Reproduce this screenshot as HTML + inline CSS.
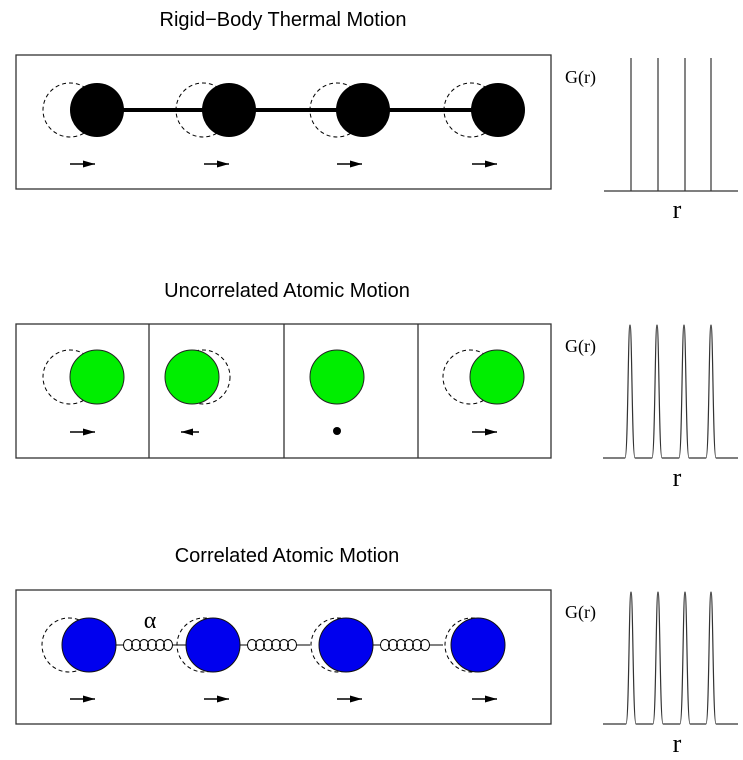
<!DOCTYPE html>
<html><head><style>body{margin:0;background:#fff}svg{display:block}</style></head><body>
<svg width="743" height="760" xmlns="http://www.w3.org/2000/svg">
<defs>
<marker id="ah" markerWidth="12" markerHeight="7" refX="12" refY="3.5" orient="auto" markerUnits="userSpaceOnUse"><path d="M0,0 L12,3.5 L0,7 z" fill="#000"/></marker>
<g id="spr" fill="none" stroke="#000" stroke-width="1">
<path d="M0,0 h8 M56,0 h14"/>
<ellipse cx="12" cy="0" rx="4.5" ry="5.5"/><ellipse cx="20" cy="0" rx="4.5" ry="5.5"/><ellipse cx="28" cy="0" rx="4.5" ry="5.5"/><ellipse cx="36" cy="0" rx="4.5" ry="5.5"/><ellipse cx="44" cy="0" rx="4.5" ry="5.5"/><ellipse cx="52" cy="0" rx="4.5" ry="5.5"/>
</g>
</defs>
<g font-family="Liberation Sans, sans-serif" font-size="20" text-anchor="middle" fill="#000">
<text x="283" y="26">Rigid−Body Thermal Motion</text>
<text x="287" y="297">Uncorrelated Atomic Motion</text>
<text x="287" y="562">Correlated Atomic Motion</text>
</g>
<g fill="none" stroke="#333" stroke-width="1.3">
<rect x="16" y="55" width="535" height="134"/>
<rect x="16" y="324" width="535" height="134"/>
<line x1="149" y1="324" x2="149" y2="458"/><line x1="284" y1="324" x2="284" y2="458"/><line x1="418" y1="324" x2="418" y2="458"/>
<rect x="16" y="590" width="535" height="134"/>
</g>
<line x1="97" y1="110" x2="498" y2="110" stroke="#000" stroke-width="4"/>
<g fill="none" stroke="#000" stroke-dasharray="4,3" stroke-width="1">
<circle cx="70" cy="110" r="27"/><circle cx="203" cy="110" r="27"/><circle cx="337" cy="110" r="27"/><circle cx="471" cy="110" r="27"/>
</g>
<g fill="#000"><circle cx="97" cy="110" r="27"/><circle cx="229" cy="110" r="27"/><circle cx="363" cy="110" r="27"/><circle cx="498" cy="110" r="27"/></g>
<g stroke="#000" stroke-width="1.5" marker-end="url(#ah)">
<line x1="70" y1="164" x2="95" y2="164"/><line x1="204" y1="164" x2="229" y2="164"/><line x1="337" y1="164" x2="362" y2="164"/><line x1="472" y1="164" x2="497" y2="164"/>
</g>
<g fill="none" stroke="#000" stroke-dasharray="4,3" stroke-width="1">
<circle cx="70" cy="377" r="27"/><circle cx="203" cy="377" r="27"/><circle cx="470" cy="377" r="27"/>
</g>
<g fill="#00ee00" stroke="#222" stroke-width="1"><circle cx="97" cy="377" r="27"/><circle cx="192" cy="377" r="27"/><circle cx="337" cy="377" r="27"/><circle cx="497" cy="377" r="27"/></g>
<g stroke="#000" stroke-width="1.5" marker-end="url(#ah)">
<line x1="70" y1="432" x2="95" y2="432"/><line x1="199" y1="432" x2="181" y2="432"/><line x1="472" y1="432" x2="497" y2="432"/>
</g>
<circle cx="337" cy="431" r="4" fill="#000"/>
<use href="#spr" x="116" y="645"/><use href="#spr" x="240" y="645"/><use href="#spr" x="373" y="645"/>
<g fill="none" stroke="#000" stroke-dasharray="4,3" stroke-width="1">
<circle cx="69" cy="645" r="27"/><circle cx="204" cy="645" r="27"/><circle cx="338" cy="645" r="27"/><circle cx="472" cy="645" r="27"/>
</g>
<g fill="#0000ee" stroke="#111" stroke-width="1"><circle cx="89" cy="645" r="27"/><circle cx="213" cy="645" r="27"/><circle cx="346" cy="645" r="27"/><circle cx="478" cy="645" r="27"/></g>
<text x="150" y="628" font-family="Liberation Serif, serif" font-size="24" text-anchor="middle">α</text>
<g stroke="#000" stroke-width="1.5" marker-end="url(#ah)">
<line x1="70" y1="699" x2="95" y2="699"/><line x1="204" y1="699" x2="229" y2="699"/><line x1="337" y1="699" x2="362" y2="699"/><line x1="472" y1="699" x2="497" y2="699"/>
</g>
<g font-family="Liberation Serif, serif" fill="#000">
<text x="565" y="83" font-size="18">G(r)</text><text x="677" y="218" font-size="26" text-anchor="middle">r</text>
<text x="565" y="352" font-size="18">G(r)</text><text x="677" y="486" font-size="26" text-anchor="middle">r</text>
<text x="565" y="618" font-size="18">G(r)</text><text x="677" y="752" font-size="26" text-anchor="middle">r</text>
</g>
<g fill="none" stroke="#333" stroke-width="1.2">
<path d="M604,191 H738 M631,191 V58 M658,191 V58 M685,191 V58 M711,191 V58"/>
<path d="M603,458 H625 C628,458 628,325 630,325 C632,325 632,458 635,458 H652 C655,458 655,325 657,325 C659,325 659,458 662,458 H679 C682,458 682,325 684,325 C686,325 686,458 689,458 H706 C709,458 709,325 711,325 C713,325 713,458 716,458 H738"/>
<path d="M603,724 H626 C629,724 629,592 631,592 C633,592 633,724 636,724 H653 C656,724 656,592 658,592 C660,592 660,724 663,724 H680 C683,724 683,592 685,592 C687,592 687,724 690,724 H706 C709,724 709,592 711,592 C713,592 713,724 716,724 H738"/>
</g>
</svg>
</body></html>
